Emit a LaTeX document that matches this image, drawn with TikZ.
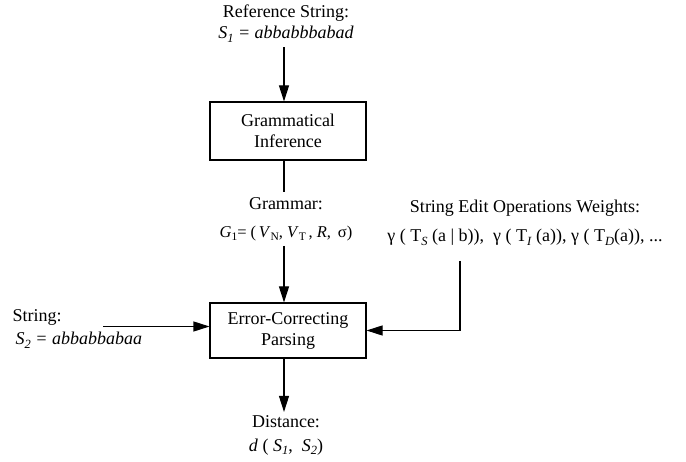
\documentclass[tikz,border=0pt]{standalone}
\usepackage{fontspec}
\setmainfont{Liberation Serif}
\usetikzlibrary{arrows.meta}
\newcommand\sbs[1]{\raisebox{-0.45ex}{\fontsize{12.5}{12.5}\selectfont #1}}
\newcommand\sbsm[1]{\raisebox{-0.45ex}{\fontsize{11.5}{11.5}\selectfont #1}}
\begin{document}
\begin{tikzpicture}[x=1pt,y=-1pt,
  every node/.style={font=\fontsize{18}{21}\selectfont, align=center},
  procbox/.style={draw, line width=1.1pt, inner sep=0pt, minimum width=156pt},
  lbl/.style={inner sep=3pt},
  conn/.style={line width=1.1pt},
  arr/.style={conn, -{Triangle[length=16pt,width=10pt]}}]
\useasboundingbox (0,0) rectangle (686,462);
\node[lbl, inner ysep=5pt] (ref) at (286,23.5) {Reference String:\\ \textit{S\sbs{1} = abbabbbabad}};
\node[procbox, minimum height=58pt] (gi) at (288,131) {Grammatical\\Inference};
\node[lbl, inner ysep=5pt, font=\fontsize{18}{28}\selectfont] (gram) at (286,219) {Grammar:\\ {\fontsize{16.5}{28}\selectfont\textit{G}\sbsm{1}= (\,\textit{V}\sbsm{N},\ \textit{V}\sbsm{T}\,, \textit{R},\ \,σ)}};
\node[procbox, minimum height=55pt] (ecp) at (288,330.5) {Error-Correcting\\Parsing};
\node[lbl, align=left, anchor=west, font=\fontsize{18}{23}\selectfont] (str) at (9.5,329) {String:\\ \,\textit{S\sbs{2} = abbabbabaa}};
\node[lbl, font=\fontsize{18}{29}\selectfont] (wts) at (525,223) {String Edit Operations Weights:\\ γ ( T\sbs{\textit{S}} (a | b)),\ \ γ ( T\sbs{\textit{I}} (a)), γ ( T\sbs{\textit{D}}(a)), ...};
\node[lbl, inner ysep=3pt, font=\fontsize{18}{24}\selectfont] (dist) at (286,435) {Distance:\\ \textit{d} ( \textit{S\sbs{1}},\ \ \textit{S\sbs{2}})};
\coordinate (strend) at (103,326.5);
\coordinate (wtsend) at (460,261);
\draw[arr] (ref.south -| 284,0) -- (284,0 |- gi.north);
\draw[conn] (284,0 |- gi.south) -- (gram.north -| 284,0);
\draw[arr] (gram.south -| 284,0) -- (284,0 |- ecp.north);
\draw[arr] (strend) -- (strend -| ecp.west);
\draw[arr] (wtsend) |- (ecp.east);
\draw[arr] (284,0 |- ecp.south) -- (dist.north -| 284,0);
\end{tikzpicture}
\end{document}
